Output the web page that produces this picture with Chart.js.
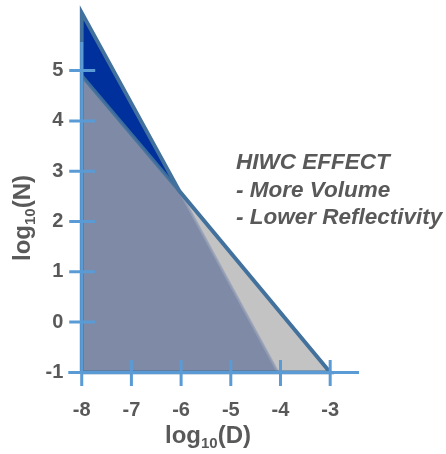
<!DOCTYPE html>
<html><head><meta charset="utf-8">
<script src="https://cdn.jsdelivr.net/npm/chart.js@4.4.0/dist/chart.umd.min.js"></script>
<style>html,body{margin:0;padding:0;background:#fff;}canvas{display:block;}</style>
</head><body>
<canvas id="c" width="446" height="454"></canvas>
<script>
// ---- data ----
const xTicks = [-8, -7, -6, -5, -4, -3];
const yTicks = [-1, 0, 1, 2, 3, 4, 5];
// steep size distribution (dark blue): [start, end] in log10(D), log10(N)
const steepX = [-8, -4.05];
const steepY = [6.15, -1];
// shallow size distribution (grey)
const shallowX = [-8, -3];
const shallowY = [4.9, -1];
// where the two lines cross
const crossX = [-6.03];
const crossY = [2.6];
const baseN = -1;
const annotation = ['HIWC EFFECT', '- More Volume', '- Lower Reflectivity'];
const xTitle = ['log', '10', '(D)'];
const yTitle = ['log', '10', '(N)'];

const pt = (x, y) => ({x, y});
const steepStart = pt(steepX[0], steepY[0]), steepEnd = pt(steepX[1], steepY[1]);
const shallowStart = pt(shallowX[0], shallowY[0]), shallowEnd = pt(shallowX[1], shallowY[1]);
const cross = pt(crossX[0], crossY[0]);
const origin = pt(xTicks[0], baseN);

const TXT = '#595959';
const AXIS = '#5b9bd5';
const FONT = '"Liberation Sans", Arial, sans-serif';

const common = {pointRadius: 0, pointHoverRadius: 0, tension: 0, clip: false};
const datasets = [
  Object.assign({data: [shallowStart, shallowEnd], fill: {value: baseN}, backgroundColor: '#c3c3c3', borderWidth: 0, order: 6}, common),
  Object.assign({data: [steepStart, steepEnd], fill: {value: baseN}, backgroundColor: '#00309b', borderWidth: 0, order: 5}, common),
  Object.assign({data: [shallowStart, cross, steepEnd], fill: {value: baseN}, backgroundColor: '#7f8aa6', borderWidth: 0, order: 4}, common),
  Object.assign({data: [cross, steepEnd], fill: false, borderColor: 'rgba(150,160,182,0.8)', borderWidth: 2.5, order: 3}, common),
  Object.assign({data: [shallowStart, cross], fill: false, borderColor: 'rgba(65,113,156,0.9)', borderWidth: 3.5, order: 2}, common),
  Object.assign({data: [origin, steepStart, cross, shallowEnd, origin], fill: false, borderColor: '#41719c', borderWidth: 3.8, order: 1}, common)
];

function drawTitle(ctx, parts, cx, cy, rot) {
  const big = 'bold 24px ' + FONT, small = 'bold 15px ' + FONT;
  ctx.save();
  ctx.translate(cx, cy); ctx.rotate(rot);
  ctx.font = big; const w0 = ctx.measureText(parts[0]).width, w2 = ctx.measureText(parts[2]).width;
  ctx.font = small; const w1 = ctx.measureText(parts[1]).width;
  let x = -(w0 + w1 + w2) / 2;
  const base = 8.5;
  ctx.fillStyle = TXT; ctx.textAlign = 'left'; ctx.textBaseline = 'alphabetic';
  ctx.font = big; ctx.fillText(parts[0], x, base); x += w0;
  ctx.font = small; ctx.fillText(parts[1], x, base + 5); x += w1;
  ctx.font = big; ctx.fillText(parts[2], x, base);
  ctx.restore();
}

const axesPlugin = {
  id: 'crossAxes',
  afterDatasetsDraw(chart) {
    const {ctx, chartArea: a, scales: {x, y}} = chart;
    const ax = x.getPixelForValue(xTicks[0]);
    const ay = y.getPixelForValue(baseN);
    ctx.save();
    ctx.strokeStyle = AXIS; ctx.lineWidth = 3; ctx.lineCap = 'butt';
    ctx.beginPath();
    ctx.moveTo(a.left, ay); ctx.lineTo(a.right, ay);
    ctx.moveTo(ax, y.getPixelForValue(5.57)); ctx.lineTo(ax, a.bottom);
    for (const v of xTicks) { const px = x.getPixelForValue(v); ctx.moveTo(px, ay - 12.5); ctx.lineTo(px, ay + 13.5); }
    for (const v of yTicks) { const py = y.getPixelForValue(v); ctx.moveTo(ax - 12.5, py); ctx.lineTo(ax + 13.5, py); }
    ctx.stroke();
    ctx.restore();
  },
  afterDraw(chart) {
    const ctx = chart.ctx;
    drawTitle(ctx, xTitle, 208, 434.5, 0);
    drawTitle(ctx, yTitle, 21, 218, -Math.PI / 2);
    ctx.save();
    ctx.fillStyle = TXT; ctx.font = 'italic bold 22.5px ' + FONT;
    ctx.textAlign = 'left'; ctx.textBaseline = 'alphabetic';
    annotation.forEach((t, i) => ctx.fillText(t, 236, 169 + i * 27.5));
    ctx.restore();
  }
};

const noPad = s => { s.paddingTop = 0; s.paddingBottom = 0; s.paddingLeft = 0; s.paddingRight = 0; };

new Chart(document.getElementById('c'), {
  type: 'line',
  data: {datasets},
  plugins: [axesPlugin],
  options: {
    responsive: false,
    animation: false,
    events: [],
    layout: {padding: {top: 5.2, right: 87, left: 0, bottom: 0}},
    plugins: {legend: {display: false}, tooltip: {enabled: false}, title: {display: false}},
    scales: {
      x: {
        type: 'linear', min: -8.27, max: -2.42,
        afterBuildTicks: s => { s.ticks = xTicks.map(v => ({value: v})); },
        afterFit: s => { s.height = 68; noPad(s); },
        grid: {display: false, drawTicks: false},
        border: {display: false},
        ticks: {color: TXT, padding: 12, font: {family: FONT, size: 20, weight: 'bold'}, maxRotation: 0, autoSkip: false}
      },
      y: {
        type: 'linear', min: -1.27, max: 6.3,
        afterBuildTicks: s => { s.ticks = yTicks.map(v => ({value: v})); },
        afterFit: s => { s.width = 68.3; noPad(s); },
        grid: {display: false, drawTicks: false},
        border: {display: false},
        ticks: {color: TXT, padding: 5, font: {family: FONT, size: 20, weight: 'bold'}, autoSkip: false}
      }
    }
  }
});
</script>
</body></html>
